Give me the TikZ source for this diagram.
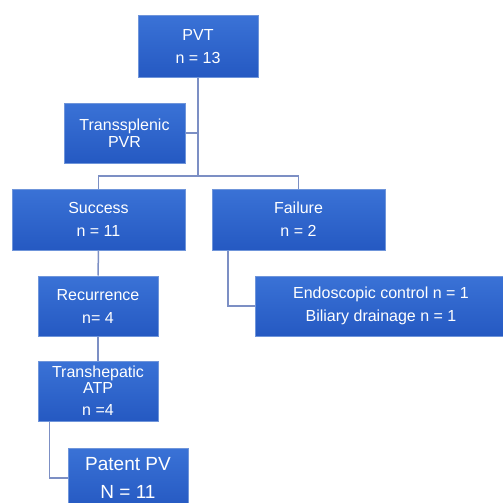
\documentclass[tikz,border=0pt]{standalone}
\usepackage{fontspec}
\setsansfont{Liberation Sans}
\usepackage{xcolor}
\usetikzlibrary{positioning,calc}
\definecolor{boxtop}{HTML}{3A72D6}
\definecolor{boxblue}{HTML}{2559C2}
\definecolor{boxedge}{HTML}{6F95DA}
\definecolor{linkblue}{HTML}{7C8FC4}

\begin{document}
\begin{tikzpicture}[x=1pt, y=-1pt,
    unit/.style={draw=boxedge, line width=1pt, top color=boxtop,
                 bottom color=boxblue, text=white, align=center,
                 font=\sffamily\fontsize{16}{18}\selectfont, inner sep=2pt},
    link/.style={draw=linkblue, line width=1.5pt},
]
\useasboundingbox (0,0) rectangle (503,503);

\node[unit, minimum width=120pt, minimum height=61pt]
    (pvt) at (198,46.5) {PVT\\[5pt] n = 13};
\node[unit, minimum width=121pt, minimum height=60pt]
    (tsp) at (124.5,133) {Transsplenic\\[-1pt] PVR};
\node[unit, minimum width=173pt, minimum height=61pt]
    (succ) at (98.5,219.5) {Success\\[5pt] n = 11};
\node[unit, minimum width=173pt, minimum height=61pt]
    (fail) at (298.5,219.5) {Failure\\[5pt] n = 2};
\node[unit, minimum width=120pt, minimum height=60pt]
    (rec) at (98,306) {Recurrence\\[5pt] n= 4};
\node[unit, minimum width=252pt, minimum height=60pt]
    (endo) at (381,306) {Endoscopic control n = 1\\[5pt] Biliary drainage n = 1};
\node[unit, minimum width=120pt, minimum height=60pt]
    (trh) at (98,391) {Transhepatic\\[-2pt] ATP\\[4pt] n =4};
\node[unit, minimum width=120pt, minimum height=60pt,
      font=\sffamily\fontsize{19}{22}\selectfont]
    (pat) at (128,478) {Patent PV\\[6pt] N = 11};

% connectors
\coordinate (bus) at (198,176);
\draw[link] (pvt.south) -- (bus);
\draw[link] (tsp.east) -- (tsp.east -| bus);
\draw[link] (succ.north) |- (bus) -| (fail.north);
\draw[link] (succ.south) -- (rec.north);
\draw[link] (rec.south) -- (trh.north);
\draw[link] ([xshift=-70.5pt]fail.south) |- (endo.west);
\draw[link] ([xshift=12pt]trh.south west) |- (pat.west);
\end{tikzpicture}
\end{document}
